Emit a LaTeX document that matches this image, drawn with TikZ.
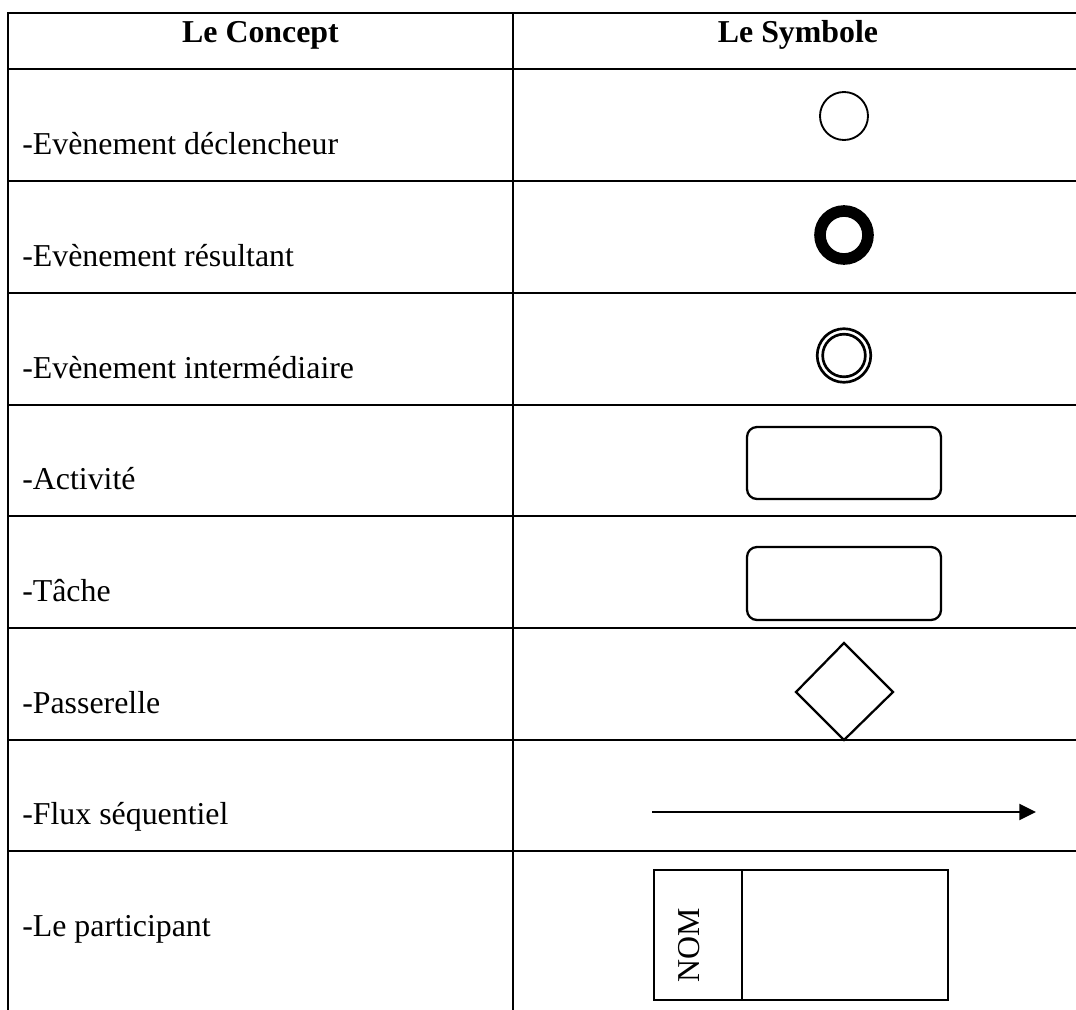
\documentclass[tikz,border=0pt]{standalone}
\usepackage{fontspec}
\setmainfont{Liberation Serif}
\usetikzlibrary{arrows.meta}

\newcommand\cellfont{\fontsize{23.9}{28}\selectfont}

\tikzset{
  rule/.style={line width=1.85pt, line cap=rect},
  symb/.style={line width=1.7pt},
  head/.style={font=\cellfont\bfseries, anchor=base, inner sep=0pt},
  concept/.style={font=\cellfont, anchor=base west, inner sep=0pt},
}

\begin{document}
\begin{tikzpicture}[x=0.75pt, y=-0.75pt]
  \useasboundingbox[fill=white] (0,0) rectangle (1076,1010);

  % table rules (open at the right and at the bottom)
  \draw[rule] (1090,13) -- (8,13) -- (8,1015);
  \draw[rule] (513,13) -- (513,1015);
  \foreach \yy in {69,181,293,405,516,628,740,851}
    \draw[rule] (8,\yy) -- (1090,\yy);

  % header
  \node[head] (hconcept) at (260.5,42.5) {Le Concept};
  \node[head] (hsymbole) at (798,42.5) {Le Symbole};

  % concepts
  \node[concept] (c1) at (22,154.5) {-Evènement déclencheur};
  \node[concept] (c2) at (22,266.5) {-Evènement résultant};
  \node[concept] (c3) at (22,378.5) {-Evènement intermédiaire};
  \node[concept] (c4) at (22,489.5) {-Activité};
  \node[concept] (c5) at (22,601.5) {-Tâche};
  \node[concept] (c6) at (22,713.5) {-Passerelle};
  \node[concept] (c7) at (22,824.5) {-Flux séquentiel};
  \node[concept] (c8) at (22,936) {-Le participant};

  % start event
  \draw[line width=1.4pt] (844,116) circle[radius=18pt];
  % end event
  \draw[line width=8.7pt] (844,235) circle[radius=18pt];
  % intermediate event
  \draw[line width=2pt] (844,355.5) circle[radius=20.1pt];
  \draw[line width=2pt] (844,355.5) circle[radius=16pt];

  % activity and task
  \draw[symb, rounded corners=7.5pt] (747,427) rectangle (941,499);
  \draw[symb, rounded corners=7.5pt] (747,547) rectangle (941,620);

  % gateway
  \draw[symb] (844,643) -- (893,692) -- (844,740) -- (796,692) -- cycle;

  % sequence flow
  \coordinate (flowA) at (652,812);
  \coordinate (flowB) at (1036,812);
  \draw[symb, -{Triangle[length=12.5pt, width=12pt]}] (flowA) -- (flowB);

  % participant (pool)
  \draw[line width=1.9pt] (654,870) rectangle (948,1000);
  \draw[line width=1.9pt] (742,870) -- (742,1000);
  \node[font=\cellfont, rotate=90, inner sep=0pt] (nom) at (689,945.5) {NOM};
\end{tikzpicture}
\end{document}
